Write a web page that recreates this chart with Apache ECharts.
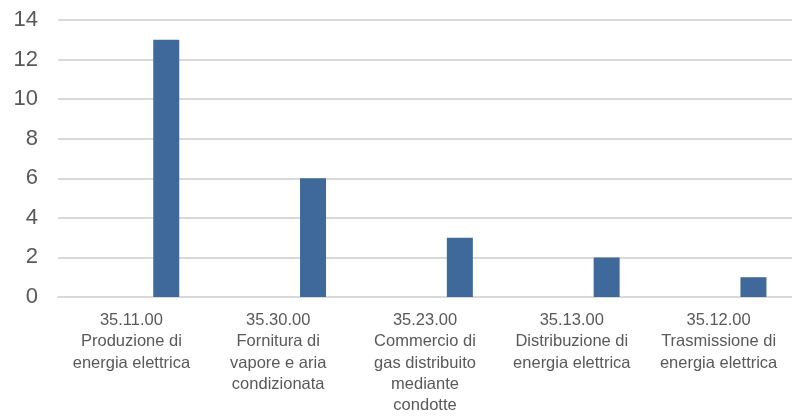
<!DOCTYPE html>
<html><head><meta charset="utf-8">
<script src="https://cdn.jsdelivr.net/npm/echarts@6/dist/echarts.min.js"></script>
<style>html,body{margin:0;padding:0;background:#fff}#c{width:792px;height:416px}</style>
</head><body><div id="c"></div>
<script>
const categories = [
  "35.11.00\nProduzione di\nenergia elettrica",
  "35.30.00\nFornitura di\nvapore e aria\ncondizionata",
  "35.23.00\nCommercio di\ngas distribuito\nmediante\ncondotte",
  "35.13.00\nDistribuzione di\nenergia elettrica",
  "35.12.00\nTrasmissione di\nenergia elettrica"
];
const emptySeries = [null, null, null, null, null];
const values = [13, 6, 3, 2, 1];
const yTicks = { min: 0, max: 14, interval: 2 };

const chart = echarts.init(document.getElementById('c'));
chart.setOption({
  animation: false,
  grid: { left: 58, right: 0, top: 20, bottom: 116, containLabel: false },
  xAxis: {
    type: 'category', data: categories,
    axisLine: { lineStyle: { color: '#d9d9d9', width: 2 } },
    axisTick: { show: false },
    axisLabel: { interval: 0, color: '#595959', fontSize: 16.5, lineHeight: 21.2, margin: 13, fontFamily: 'Liberation Sans, Arial, sans-serif' }
  },
  yAxis: {
    type: 'value', min: yTicks.min, max: yTicks.max, interval: yTicks.interval,
    axisLine: { show: false }, axisTick: { show: false },
    splitLine: { lineStyle: { color: '#d9d9d9', width: 2 } },
    axisLabel: { color: '#595959', fontSize: 22, margin: 20, fontFamily: 'Liberation Sans, Arial, sans-serif' }
  },
  series: [
    { type: 'bar', data: emptySeries, barWidth: 26, barGap: '168%', itemStyle: { color: '#ed7d31' } },
    { type: 'bar', data: values, barWidth: 26, barGap: '168%', itemStyle: { color: '#3f689b' } }
  ]
});
</script></body></html>
